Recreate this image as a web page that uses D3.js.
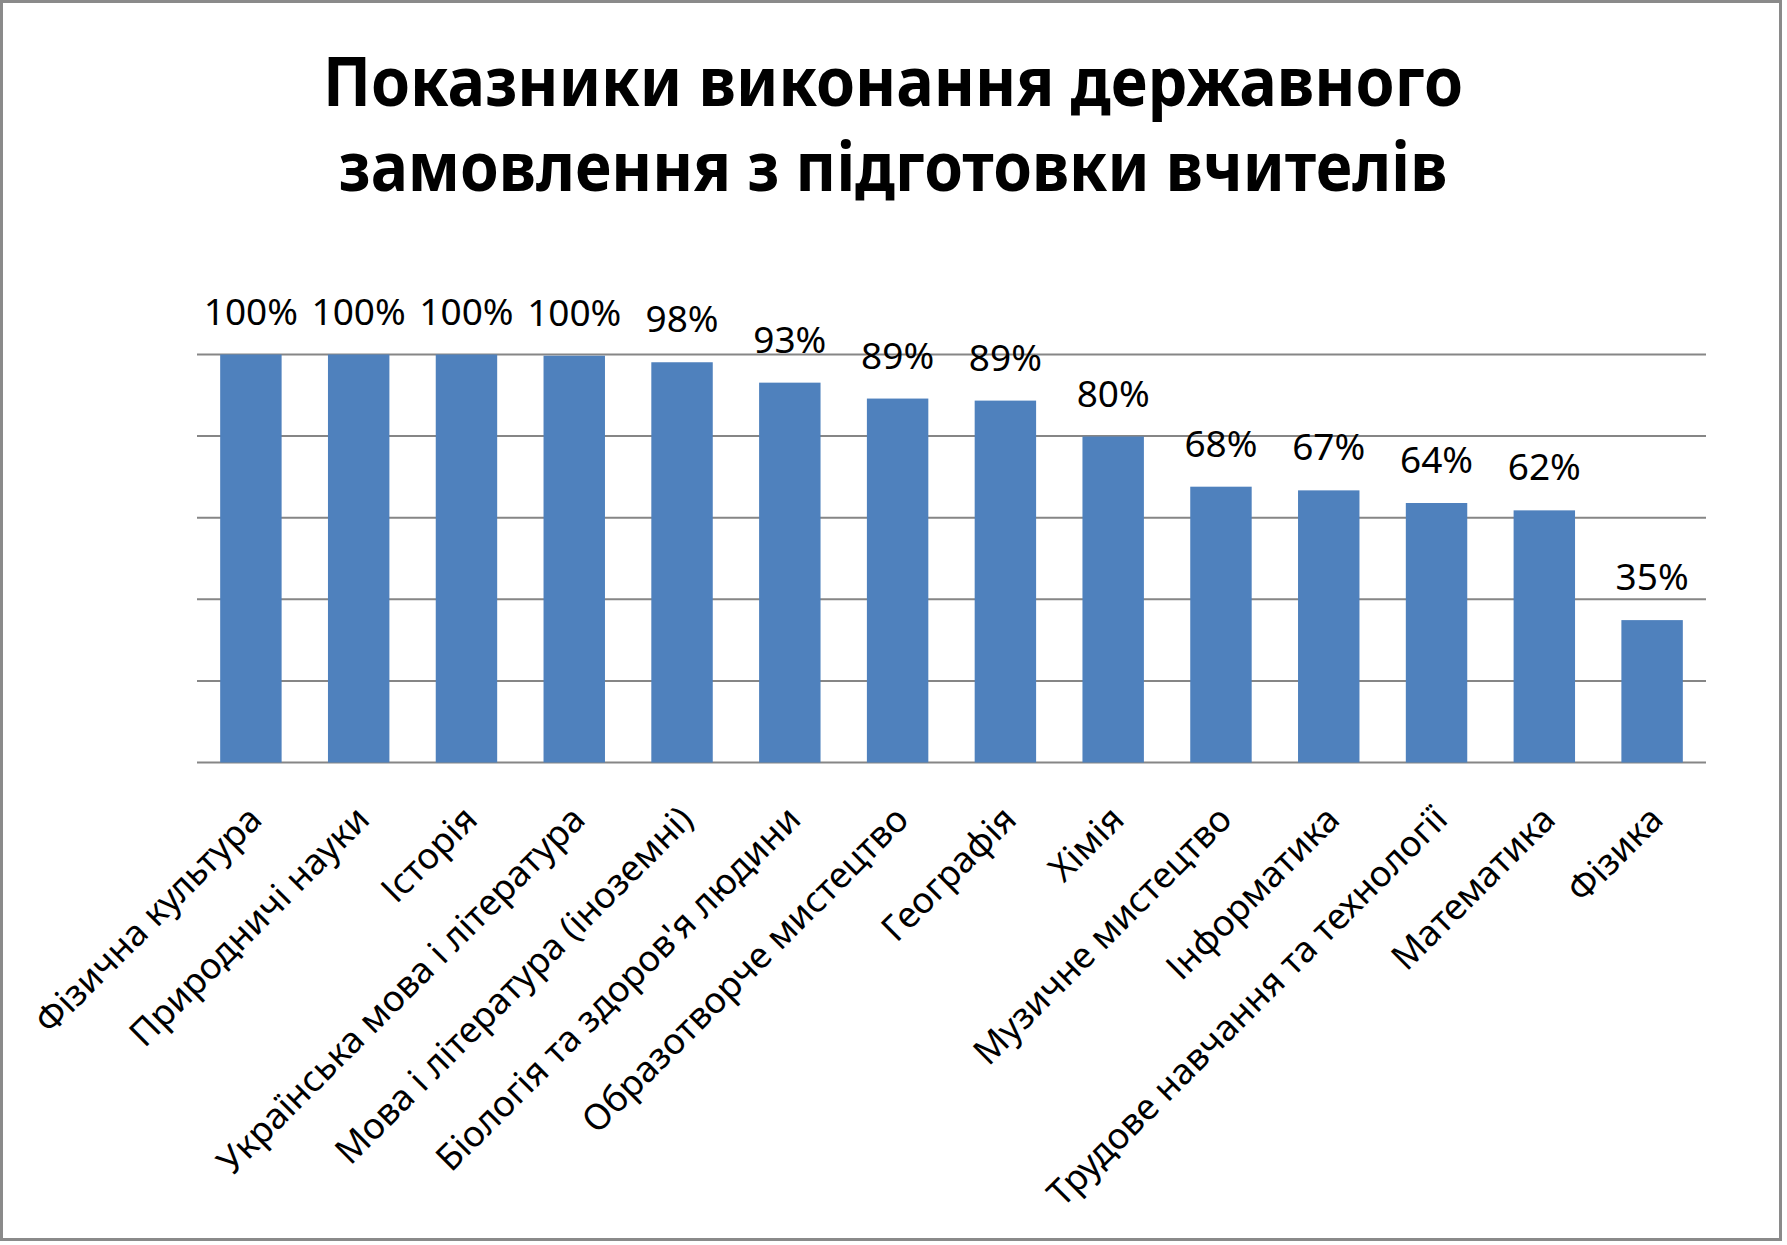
<!DOCTYPE html>
<html>
<head>
<meta charset="utf-8">
<script src="https://cdn.jsdelivr.net/npm/d3@7"></script>
<style>
	body { margin: 0; background: #fff; }
	svg { display: block; }
</style>
</head>
<body>
<div id="chart"></div>
<script>
var titleLines = ["Показники виконання державного", "замовлення з підготовки вчителів"];
var categories = [
	"Фізична культура",
	"Природничі науки",
	"Історія",
	"Українська мова і література",
	"Мова і література (іноземні)",
	"Біологія та здоров'я людини",
	"Образотворче мистецтво",
	"Географія",
	"Хімія",
	"Музичне мистецтво",
	"Інформатика",
	"Трудове навчання та технології",
	"Математика",
	"Фізика"
];
var values = [100, 100, 100, 99.7, 98.1, 93.1, 89.2, 88.7, 79.9, 67.6, 66.7, 63.6, 61.8, 34.9];
var gridTicks = [0, 20, 40, 60, 80, 100];

var width = 1787, height = 1245;
var plot = {left: 197, right: 1706, top: 354.5, bottom: 762.5};

var svg = d3.select("#chart").append("svg")
	.attr("width", width)
	.attr("height", height);

svg.append("rect")
	.attr("x", 1.5).attr("y", 1.5)
	.attr("width", 1779).attr("height", 1238)
	.attr("fill", "#fff")
	.attr("stroke", "#8a8a8a")
	.attr("stroke-width", 3);

// title, squeezed to the width of the original
var titleWidths = [1140, 1109];
svg.selectAll("text.title")
	.data(titleLines)
	.enter().append("text")
	.classed("title", true)
	.attr("x", 893)
	.attr("y", function(d, i) { return 106 + i * 85; })
	.attr("text-anchor", "middle")
	.attr("font-family", "'Noto Sans', sans-serif")
	.attr("font-weight", "bold")
	.attr("font-size", "69px")
	.attr("textLength", function(d, i) { return titleWidths[i]; })
	.attr("lengthAdjust", "spacingAndGlyphs")
	.text(function(d) { return d; });

var x = d3.scaleBand()
	.domain(categories)
	.range([plot.left, plot.right])
	.paddingInner(0.43)
	.paddingOuter(0.215);

var y = d3.scaleLinear()
	.domain([0, 100])
	.range([plot.bottom, plot.top]);

svg.append("g")
	.selectAll("line")
	.data(gridTicks)
	.enter().append("line")
	.attr("x1", plot.left)
	.attr("x2", plot.right)
	.attr("y1", function(d) { return y(d); })
	.attr("y2", function(d) { return y(d); })
	.attr("stroke", "#868686")
	.attr("stroke-width", 2);

var data = categories.map(function(c, i) { return {cat: c, val: values[i]}; });

svg.append("g")
	.selectAll("rect")
	.data(data)
	.enter().append("rect")
	.attr("x", function(d) { return x(d.cat); })
	.attr("y", function(d) { return y(d.val); })
	.attr("width", x.bandwidth())
	.attr("height", function(d) { return y(0) - y(d.val); })
	.attr("fill", "#4f81bd");

svg.append("g")
	.selectAll("text")
	.data(data)
	.enter().append("text")
	.attr("x", function(d) { return x(d.cat) + x.bandwidth() / 2; })
	.attr("y", function(d) { return y(d.val) - 30; })
	.attr("text-anchor", "middle")
	.attr("font-family", "'Noto Sans', sans-serif")
	.attr("font-size", "37px")
	.attr("fill", "#000")
	.text(function(d) { return Math.round(d.val) + "%"; });

// category axis, labels at -45 degrees
var xAxis = svg.append("g")
	.attr("transform", "translate(0," + plot.bottom + ")")
	.call(d3.axisBottom(x).tickSize(0).tickPadding(0));
xAxis.select(".domain").remove();
xAxis.selectAll("text")
	.attr("font-family", "'Noto Sans', sans-serif")
	.attr("font-size", "36px")
	.attr("fill", "#000")
	.attr("text-anchor", "end")
	.attr("dy", 0)
	.attr("y", 0)
	.attr("transform", "translate(13,59) rotate(-45)");
</script>
</body>
</html>
